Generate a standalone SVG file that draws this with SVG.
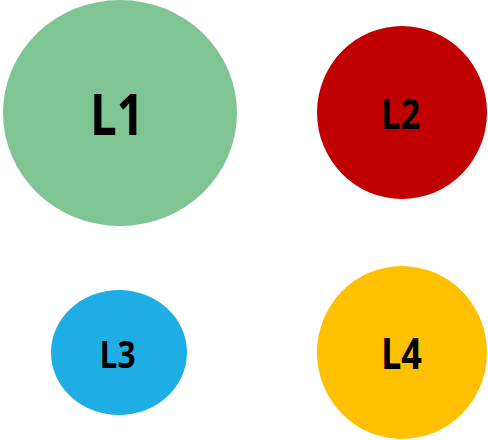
<svg xmlns="http://www.w3.org/2000/svg" width="488" height="440" viewBox="0 0 488 440">
<style>
.lbl{font-family:"Open Sans","Liberation Sans",Arial,sans-serif;font-weight:bold;fill:#000;}
</style>
<rect width="488" height="440" fill="#fff"/>
<g id="L1"><ellipse cx="120" cy="113" rx="117" ry="113" fill="#7FC594"/><text class="lbl" x="90" y="135" font-size="57" textLength="54" lengthAdjust="spacingAndGlyphs">L1</text></g>
<g id="L2"><ellipse cx="402" cy="112.5" rx="85" ry="86.5" fill="#C00000"/><text class="lbl" x="381" y="129" font-size="42" textLength="39" lengthAdjust="spacingAndGlyphs">L2</text></g>
<g id="L3"><ellipse cx="119" cy="352.5" rx="68" ry="62.5" fill="#1EAEE4"/><text class="lbl" x="99.5" y="368" font-size="38" textLength="36" lengthAdjust="spacingAndGlyphs">L3</text></g>
<g id="L4"><ellipse cx="402" cy="352.5" rx="85" ry="86.5" fill="#FFC000"/><text class="lbl" x="381" y="369" font-size="43" textLength="41" lengthAdjust="spacingAndGlyphs">L4</text></g>
<g id="connectors"/>
</svg>
